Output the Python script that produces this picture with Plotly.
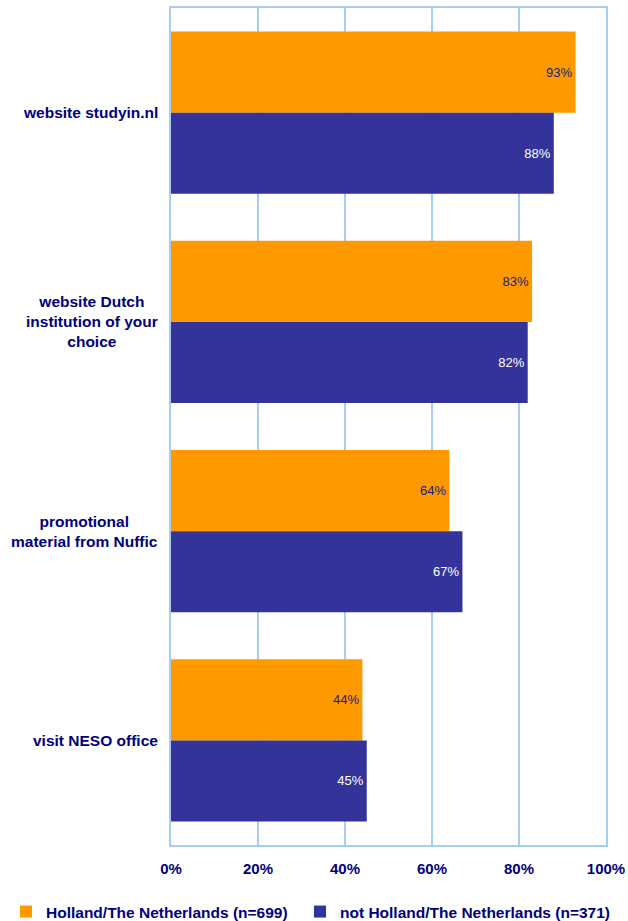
import plotly.graph_objects as go

categories = ["website studyin.nl",
              "website Dutch<br>institution of your<br>choice",
              "promotional<br>material from Nuffic",
              "visit NESO office"]
holland = [93, 83, 64, 44]
not_holland = [88, 82, 67, 45]
series_names = ["Holland/The Netherlands (n=699)", "not Holland/The Netherlands (n=371)"]
tick_vals = [0, 20, 40, 60, 80, 100]
tick_text = ["0%", "20%", "40%", "60%", "80%", "100%"]

NAVY_TXT = "#000080"
GRID = "#A8CDF5"
FONT = "Liberation Sans, Arial, sans-serif"

fig = go.Figure()
fig.add_trace(go.Bar(
    y=categories, x=holland, orientation="h", name=f"<b>{series_names[0]}</b>",
    marker=dict(color="#FF9900", line=dict(width=0)),
    text=[f"{v}%" for v in holland], textposition="inside", insidetextanchor="end",
    textfont=dict(color="#1a1a80", size=13, family=FONT), cliponaxis=False,
    legend="legend",
))
fig.add_trace(go.Bar(
    y=categories, x=not_holland, orientation="h", name=f"<b>{series_names[1]}</b>",
    marker=dict(color="#333399", line=dict(width=0)),
    text=[f"{v}%" for v in not_holland], textposition="inside", insidetextanchor="end",
    textfont=dict(color="#FFFFFF", size=13, family=FONT), cliponaxis=False,
    legend="legend2",
))

for c in categories:
    fig.add_annotation(
        x=0, xref="paper", y=c, yref="y", text=f"<b>{c}</b>", showarrow=False,
        xanchor="right", yanchor="middle", align="center", xshift=-11,
        font=dict(size=15.5, color=NAVY_TXT, family=FONT),
    )

legend_common = dict(orientation="h", xref="container", xanchor="left",
                     y=0.0098, yref="container", yanchor="middle",
                     font=dict(size=15.5, color=NAVY_TXT, family=FONT),
                     itemwidth=30, bgcolor="rgba(0,0,0,0)")

fig.update_layout(
    width=628, height=921,
    margin=dict(l=171, r=22, t=8, b=76, autoexpand=False),
    paper_bgcolor="white", plot_bgcolor="white",
    barmode="group", bargap=0.225, bargroupgap=0,
    font=dict(family=FONT, color=NAVY_TXT, size=15),
    showlegend=True,
    legend=dict(x=6 / 628, **legend_common),
    legend2=dict(x=300 / 628, **legend_common),
)
fig.update_xaxes(
    range=[0, 100], tickvals=tick_vals, ticktext=[f"<b>{t}</b>" for t in tick_text],
    showgrid=True, gridcolor=GRID, gridwidth=2,
    showline=True, linecolor=GRID, linewidth=2, mirror=True,
    zeroline=False, ticks="", ticklabelstandoff=9,
    tickfont=dict(size=15, color=NAVY_TXT, family=FONT),
    fixedrange=True, automargin=False,
)
fig.update_yaxes(
    autorange="reversed", showticklabels=False, showgrid=False,
    showline=True, linecolor=GRID, linewidth=2, mirror=True, ticks="",
    fixedrange=True, automargin=False,
)

fig.write_html("out.html", config={"displayModeBar": False},
               post_script="document.body.style.margin='0';document.body.style.overflow='hidden';")
